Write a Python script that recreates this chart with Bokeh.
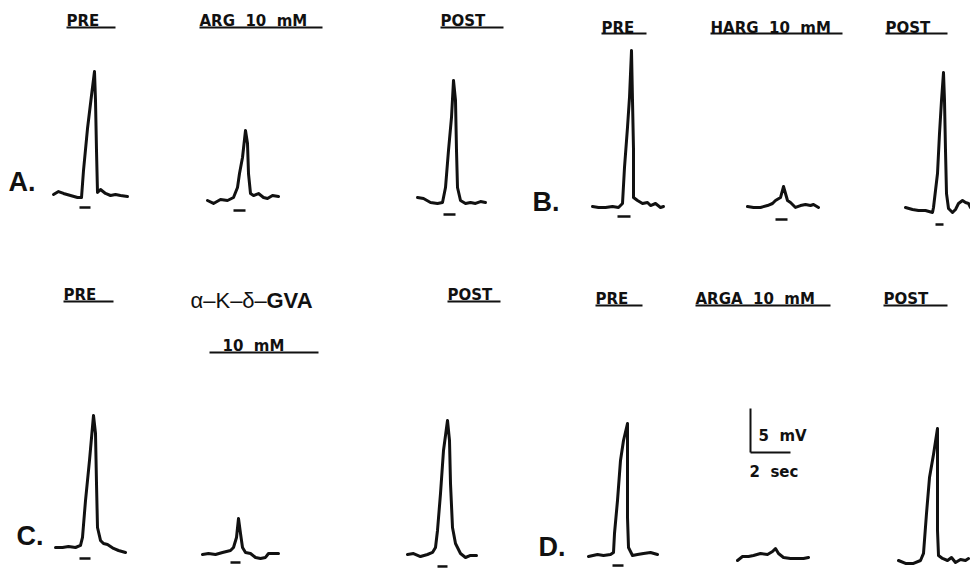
from bokeh.plotting import figure
from bokeh.models import Range1d
from bokeh.embed import file_html
from bokeh.resources import INLINE
from bokeh.core.properties import value

# ---------------- DATA ----------------
# Each trace: time (s) from the start of the trace, voltage (mV) above baseline
A_PRE_T  = [0, 0.25, 0.5, 0.85, 1.2, 1.4, 1.5, 1.7, 1.9, 2.05, 2.1, 2.15, 2.2, 2.35, 2.6, 2.85, 3.1, 3.35, 3.7]
A_PRE_MV = [0.11, 0.45, 0.23, 0, -0.23, -0.23, 2.84, 7.61, 11.36, 14.09, 10.8, 5.11, 0.34, 0.68, 0.23, 0, 0.11, 0, -0.11]

A_ARG_T  = [0, 0.3, 0.65, 1.0, 1.3, 1.5, 1.6, 1.75, 1.9, 2.0, 2.05, 2.15, 2.3, 2.55, 2.8, 3.0, 3.25, 3.55]
A_ARG_MV = [-0.11, -0.45, 0, -0.11, 0.23, 1.36, 2.95, 4.77, 7.84, 6.36, 2.95, 0.68, 0.45, 0.68, 0.23, 0.11, 0.45, 0.34]

A_POST_T  = [0, 0.3, 0.65, 1.0, 1.25, 1.4, 1.55, 1.7, 1.8, 1.9, 1.95, 2.0, 2.15, 2.4, 2.65, 2.9, 3.15, 3.4]
A_POST_MV = [0.23, 0.11, -0.34, -0.45, -0.34, 1.36, 5.57, 9.32, 13.52, 11.25, 5.57, 1.36, -0.11, -0.45, -0.34, -0.45, -0.23, -0.34]

B_PRE_T  = [0, 0.3, 0.65, 1.0, 1.3, 1.5, 1.6, 1.75, 1.85, 1.95, 2.0, 2.05, 2.05, 2.25, 2.5, 2.75, 2.9, 3.15, 3.4, 3.55]
B_PRE_MV = [0, -0.11, -0.11, 0, -0.11, 0.34, 4.43, 8.98, 12.39, 17.73, 12.05, 6.48, 1.02, 0.68, 0.34, 0.45, 0.11, 0.34, -0.11, 0]

B_HARG_T  = [0, 0.3, 0.65, 1.0, 1.25, 1.4, 1.65, 1.8, 1.9, 2.0, 2.15, 2.4, 2.65, 2.9, 3.15, 3.3, 3.55]
B_HARG_MV = [0, -0.11, -0.11, 0.11, 0.34, 0.68, 1.02, 2.27, 1.48, 0.68, 0.45, -0.11, 0.11, 0.23, 0.11, 0.23, -0.11]

B_POST_T  = [0, 0.35, 0.65, 1.0, 1.35, 1.4, 1.6, 1.7, 1.8, 1.9, 1.95, 2.0, 2.05, 2.15, 2.35, 2.5, 2.65, 2.85, 3.0, 3.15, 3.25]
B_POST_MV = [0.11, -0.11, -0.23, -0.23, -0.45, 0.11, 3.98, 8.52, 12.27, 15.45, 12.27, 6.59, 1.70, 0, -0.45, -0.11, 0.57, 0.91, 0.68, 0.57, 0.11]

C_PRE_T  = [0, 0.35, 0.65, 1.0, 1.25, 1.35, 1.5, 1.7, 1.9, 2.0, 2.05, 2.1, 2.25, 2.4, 2.6, 2.75, 2.9, 3.15, 3.5]
C_PRE_MV = [0, 0, 0.11, 0, 0.23, 1.14, 5.34, 9.89, 15.0, 12.95, 7.27, 2.27, 0.8, 0.45, 0.34, 0.11, -0.11, -0.34, -0.57]

C_GVA_T  = [0, 0.3, 0.65, 1.0, 1.4, 1.55, 1.7, 1.8, 1.9, 2.0, 2.15, 2.4, 2.65, 2.9, 3.15, 3.3, 3.55, 3.8]
C_GVA_MV = [-0.11, 0, -0.11, 0.11, 0.34, 0.68, 1.82, 3.98, 2.27, 0.68, 0.11, 0, -0.45, -0.57, -0.45, 0, 0, 0]

C_POST_T  = [0, 0.3, 0.65, 1.0, 1.25, 1.4, 1.5, 1.65, 1.8, 2.0, 2.1, 2.15, 2.25, 2.4, 2.65, 2.9, 3.15, 3.45]
C_POST_MV = [0, 0.11, -0.23, 0, 0.23, 0.8, 2.73, 6.93, 11.82, 15.23, 12.95, 8.07, 3.07, 1.25, 0.11, -0.34, -0.11, -0.11]

D_PRE_T  = [0, 0.45, 0.75, 1.1, 1.25, 1.3, 1.45, 1.6, 1.75, 1.95, 1.95, 1.95, 2.0, 2.2, 2.45, 2.75, 3.1, 3.45]
D_PRE_MV = [-0.11, 0.11, 0, 0.11, 0.34, 2.5, 6.25, 10.8, 13.07, 15.0, 10.0, 4.32, 0.91, 0, 0.11, 0.23, 0.34, 0.11]

D_ARGA_T  = [0, 0.25, 0.55, 0.8, 1.15, 1.5, 1.75, 1.9, 2.05, 2.3, 2.65, 3.0, 3.3, 3.55]
D_ARGA_MV = [-0.34, 0.11, 0.11, 0.23, 0.45, 0.34, 0.68, 1.02, 0.45, 0, -0.11, -0.11, -0.11, 0]

D_POST_T  = [0, 0.35, 0.75, 1.1, 1.25, 1.4, 1.55, 1.75, 1.95, 1.95, 1.95, 2.0, 2.2, 2.45, 2.65, 2.85, 3.1, 3.35, 3.5]
D_POST_MV = [0, -0.34, -0.34, 0, 0.8, 5.34, 9.43, 12.05, 15.0, 9.09, 3.41, 0.57, 0.23, 0, 0.34, -0.23, 0.11, 0, 0.23]

# stimulus markers (s from trace start) and their level (mV); None = not visible
STIM_START = [1.3, 1.3, 1.3, 1.25, 1.4, 1.5, 1.2, 1.4, 1.5, 1.2, None, None]
STIM_END   = [1.85, 1.9, 1.9, 1.9, 2.0, 1.9, 1.75, 1.9, 2.0, 1.75, None, None]
STIM_MV    = [-1.36, -1.25, -1.70, -1.14, -1.48, -1.82, -1.25, -1.02, -1.36, -1.14, None, None]

ROW_LETTERS = ["A.", "B.", "C.", "D."]
COND_LABELS = ["PRE", "ARG 10 mM", "POST",
               "PRE", "HARG 10 mM", "POST",
               "PRE", "POST",
               "PRE", "ARGA 10 mM", "POST"]
GVA_PARTS = ["\u03b1\u2013K\u2013\u03b4\u2013", "GVA"]
GVA_CONC = "10 mM"
SCALE_MV = 5
SCALE_S = 2
SCALE_LABELS = ["5 mV", "2 sec"]

TRACES = [(A_PRE_T, A_PRE_MV), (A_ARG_T, A_ARG_MV), (A_POST_T, A_POST_MV),
          (B_PRE_T, B_PRE_MV), (B_HARG_T, B_HARG_MV), (B_POST_T, B_POST_MV),
          (C_PRE_T, C_PRE_MV), (C_GVA_T, C_GVA_MV), (C_POST_T, C_POST_MV),
          (D_PRE_T, D_PRE_MV), (D_ARGA_T, D_ARGA_MV), (D_POST_T, D_POST_MV)]

# ---------------- LAYOUT (canvas px) ----------------
PX_PER_S = 20.0
PX_PER_MV = 8.8
TRACE_ORIGINS = [(53, 195), (207, 199), (417, 199),
                 (592, 206), (747, 206), (905, 208),
                 (55, 547), (202, 553), (407, 554),
                 (588, 555), (737, 557), (898, 560)]
# letter positions: (left, vertical centre of capitals)
LETTER_POS = [(8, 181), (532, 201), (16, 535), (538, 546)]
# (text left, vertical centre of capitals, underline x0, underline x1, underline y)
COND_POS = [(66, 20, 66, 115, 27), (199, 20, 199, 322, 27), (440, 20, 440, 503, 27),
            (601, 27, 601, 646, 33), (710, 27, 710, 842, 33), (885, 27, 885, 947, 33),
            (63, 294, 63, 113, 301), (447, 294, 447, 500, 301),
            (595, 298, 595, 642, 305), (695, 298, 695, 830, 305), (883, 298, 883, 947, 305)]
GVA_POS = [(190, 300), (266, 300)]
GVA_CONC_POS = (222, 345, 209, 318, 352)
SCALE_CORNER = (750, 452)


def spaced(s):
    # the figure's lettering is widely spaced
    return s.replace(" ", "\u00a0\u00a0")


W, H = 970, 568
p = figure(width=W, height=H, output_backend="svg", toolbar_location=None,
           x_range=Range1d(0, W), y_range=Range1d(H, 0),
           x_axis_type=None, y_axis_type=None, min_border=0,
           background_fill_color="white", border_fill_color="white")
p.outline_line_color = None
p.grid.visible = False

INK = "#111111"

# traces
for (t, mv), (x0, y0) in zip(TRACES, TRACE_ORIGINS):
    xs = [x0 + ti * PX_PER_S for ti in t]
    ys = [y0 - vi * PX_PER_MV for vi in mv]
    p.line(xs, ys, line_width=3, line_color=INK, line_join="round", line_cap="round")

# stimulus markers
sx0, sx1, sy = [], [], []
for s0, s1, lv, (x0, y0) in zip(STIM_START, STIM_END, STIM_MV, TRACE_ORIGINS):
    if s0 is None:
        continue
    sx0.append(x0 + s0 * PX_PER_S)
    sx1.append(x0 + s1 * PX_PER_S)
    sy.append(y0 - lv * PX_PER_MV)
p.segment(x0=sx0, y0=sy, x1=sx1, y1=sy, line_width=2.5, line_color=INK)

# condition labels
p.text(x=[c[0] for c in COND_POS], y=[c[1] for c in COND_POS],
       text=[spaced(s) for s in COND_LABELS],
       text_font=value("DejaVu Sans"), text_font_style="bold", text_font_size="15px",
       text_align="left", text_baseline="middle", text_color=INK)
p.segment(x0=[c[2] for c in COND_POS], y0=[c[4] for c in COND_POS],
          x1=[c[3] for c in COND_POS], y1=[c[4] for c in COND_POS],
          line_width=2, line_color=INK)

# alpha-K-delta-GVA label
p.text(x=[GVA_POS[0][0]], y=[GVA_POS[0][1]], text=[GVA_PARTS[0]],
       text_font=value("Liberation Sans"), text_font_size="22px",
       text_align="left", text_baseline="middle", text_color=INK)
p.text(x=[GVA_POS[1][0]], y=[GVA_POS[1][1]], text=[GVA_PARTS[1]],
       text_font=value("Liberation Sans"), text_font_style="bold", text_font_size="22px",
       text_align="left", text_baseline="middle", text_color=INK)
p.text(x=[GVA_CONC_POS[0]], y=[GVA_CONC_POS[1]], text=[spaced(GVA_CONC)],
       text_font=value("DejaVu Sans"), text_font_style="bold", text_font_size="15px",
       text_align="left", text_baseline="middle", text_color=INK)
p.segment(x0=[GVA_CONC_POS[2]], y0=[GVA_CONC_POS[4]],
          x1=[GVA_CONC_POS[3]], y1=[GVA_CONC_POS[4]], line_width=2, line_color=INK)

# row letters
p.text(x=[l[0] for l in LETTER_POS], y=[l[1] for l in LETTER_POS], text=ROW_LETTERS,
       text_font=value("Liberation Sans"), text_font_style="bold", text_font_size="27px",
       text_align="left", text_baseline="middle", text_color=INK)

# scale bar
cx, cy = SCALE_CORNER
p.segment(x0=[cx, cx], y0=[cy, cy], x1=[cx, cx + SCALE_S * PX_PER_S],
          y1=[cy - SCALE_MV * PX_PER_MV, cy], line_width=2, line_color=INK)
p.text(x=[cx + 8, cx - 1], y=[cy - 17, cy + 19], text=[spaced(s) for s in SCALE_LABELS],
       text_font=value("DejaVu Sans"), text_font_style="bold", text_font_size="15px",
       text_align="left", text_baseline="middle", text_color=INK)

open("out.html", "w").write(file_html(p, INLINE))
